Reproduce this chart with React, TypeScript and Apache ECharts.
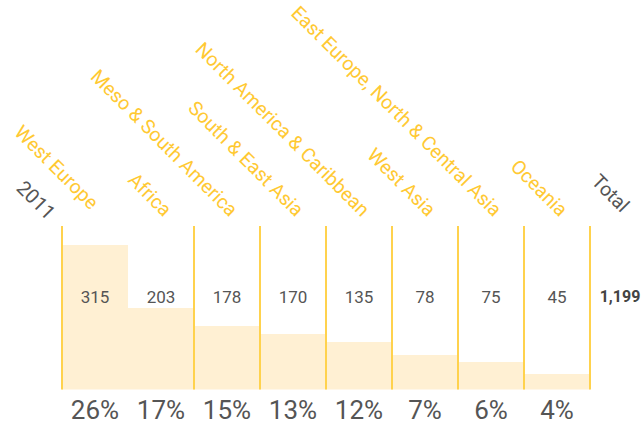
import React, { useEffect, useRef } from 'react';
import * as echarts from 'echarts';

// ---- data ----
const regions = [
  'West Europe',
  'Africa',
  'Meso & South America',
  'South & East Asia',
  'North America & Caribbean',
  'West Asia',
  'East Europe, North & Central Asia',
  'Oceania',
];
const totalLabel = 'Total';
const yearLabel = '2011';
const counts = [315, 203, 178, 170, 135, 78, 75, 45];
const totalCount = '1,199';
const shares = ['26%', '17%', '15%', '13%', '12%', '7%', '6%', '4%'];
// bar heights as drawn in the reference (arbitrary units)
const barValues = [144.5, 81.5, 63.5, 55.5, 47.5, 34.5, 27.5, 15.5];
const barAxisMax = 163.5;
// column boundaries (by column index) without a divider line
const hiddenDividers = [1];

// ---- styles ----
const YELLOW = '#FFC933';
const LINE = '#FFD24D';
const FILL = '#FFF0D3';
const GRAY = '#555555';
const FONT = "Roboto, 'Liberation Sans', sans-serif";

export default function App() {
  const ref = useRef<HTMLDivElement>(null);

  useEffect(() => {
    if (!ref.current) return;
    const chart = echarts.init(ref.current, null, { renderer: 'svg' });
    const columns = [...regions, totalLabel];
    const topLabels = columns.map((name) => {
      if (name === 'West Europe') return { value: name, textStyle: { padding: [10, 10, 0, 0] } };
      if (name === totalLabel) return { value: name, textStyle: { color: GRAY, padding: [4, 6, 0, 0] } };
      return name;
    });

    const option: any = {
      animation: false,
      grid: [
        { left: 62, top: 226, width: 594, height: barAxisMax, outerBoundsMode: 'none', containLabel: false },
        { left: 69, top: 226, width: 594, height: barAxisMax, outerBoundsMode: 'none', containLabel: false },
      ],
      xAxis: [
        {
          type: 'category',
          gridIndex: 0,
          position: 'bottom',
          data: columns,
          z: 3,
          axisLine: { show: false },
          axisTick: { show: false },
          axisLabel: {
            interval: 0,
            margin: 7,
            fontSize: 26,
            color: GRAY,
            fontFamily: FONT,
            formatter: (_v: string, i: number) => shares[i] ?? '',
          },
          splitLine: {
            show: true,
            interval: (i: number) => !hiddenDividers.includes(i),
            lineStyle: { color: LINE, width: 2 },
          },
        },
        {
          type: 'category',
          gridIndex: 0,
          position: 'top',
          data: columns,
          z: 5,
          axisLine: { show: false },
          axisTick: { show: false },
          splitLine: { show: false },
          axisLabel: {
            inside: true,
            interval: 0,
            margin: 62,
            fontSize: 17,
            color: GRAY,
            fontFamily: FONT,
            formatter: (_v: string, i: number) =>
              i < counts.length ? String(counts[i]) : `{t|${totalCount}}`,
            rich: {
              t: { fontWeight: 'bold', fontSize: 16, color: '#444444', fontFamily: FONT, padding: [0, 6, 0, 0] },
            },
          },
        },
        {
          type: 'category',
          gridIndex: 1,
          position: 'top',
          data: topLabels,
          axisLine: { show: false },
          axisTick: { show: false },
          splitLine: { show: false },
          axisLabel: {
            interval: 0,
            rotate: -45,
            margin: 13,
            fontSize: 19.5,
            color: YELLOW,
            fontFamily: FONT,
          },
        },
      ],
      yAxis: [
        { type: 'value', gridIndex: 0, min: 0, max: barAxisMax, show: false },
        { type: 'value', gridIndex: 1, show: false },
      ],
      series: [
        {
          type: 'bar',
          xAxisIndex: 0,
          yAxisIndex: 0,
          data: [...barValues, null],
          barWidth: '100%',
          itemStyle: { color: FILL },
          silent: true,
        },
      ],
      graphic: [
        {
          type: 'text',
          x: 52,
          y: 216,
          rotation: -Math.PI / 4,
          style: {
            text: yearLabel,
            fill: GRAY,
            fontSize: 20,
            fontFamily: FONT,
            align: 'right',
            textAlign: 'right',
            verticalAlign: 'middle',
            textVerticalAlign: 'middle',
          },
        },
      ],
    };
    chart.setOption(option);
    return () => chart.dispose();
  }, []);

  return (
    <div
      ref={ref}
      style={{ position: 'absolute', left: 0, top: 0, width: 644, height: 428, background: '#ffffff' }}
    />
  );
}
